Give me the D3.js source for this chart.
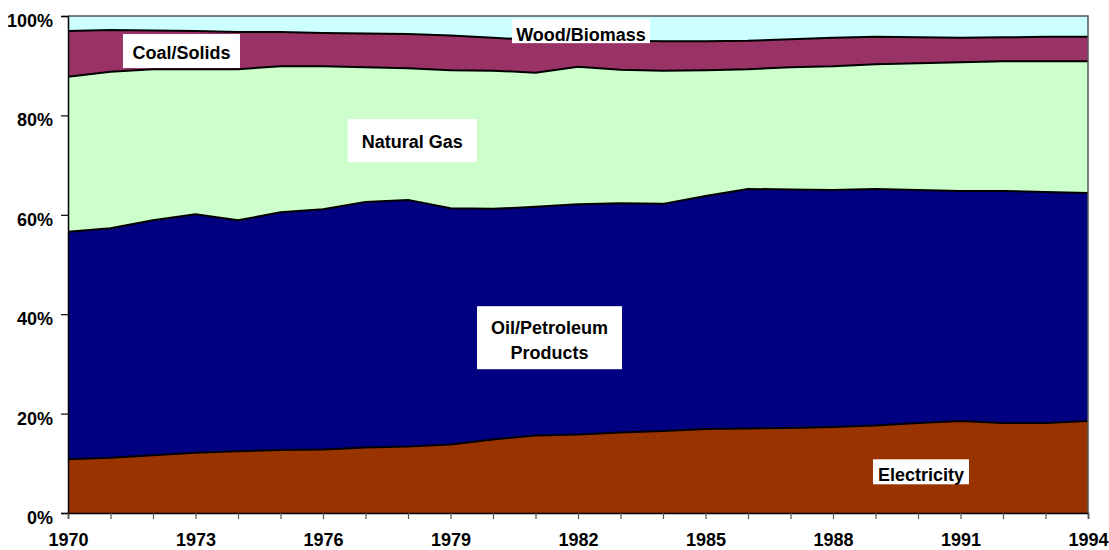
<!DOCTYPE html>
<html>
<head>
<meta charset="utf-8">
<script src="https://cdn.jsdelivr.net/npm/d3@7"></script>
<style>
  body { margin: 0; background: #fff; }
  svg text { font-family: "Liberation Sans", Arial, sans-serif; font-weight: bold; fill: #000; }
</style>
</head>
<body>
<svg width="1109" height="550"></svg>
<script>
'use strict';

// shares (%) by year
const years = d3.range(1970, 1995);
const electricity = [10.8, 11.1, 11.6, 12.1, 12.4, 12.7, 12.8, 13.2, 13.4, 13.8, 14.8, 15.6, 15.8, 16.2, 16.5, 16.9, 17.0, 17.1, 17.3, 17.6, 18.1, 18.5, 18.1, 18.1, 18.5];
const oil = [45.8, 46.2, 47.3, 48.0, 46.5, 47.8, 48.3, 49.4, 49.6, 47.5, 46.4, 46.0, 46.3, 46.1, 45.7, 46.9, 48.2, 48.0, 47.7, 47.6, 46.9, 46.3, 46.7, 46.5, 45.9];
const gas = [31.2, 31.5, 30.4, 29.2, 30.4, 29.4, 28.8, 27.1, 26.5, 27.8, 27.8, 27.0, 27.7, 26.9, 26.8, 25.3, 24.1, 24.6, 24.9, 25.1, 25.5, 25.9, 26.1, 26.3, 26.5];
const coal = [9.2, 8.4, 7.8, 7.7, 7.5, 6.9, 6.7, 6.8, 6.9, 7.0, 6.6, 6.6, 5.3, 5.8, 5.9, 5.8, 5.7, 5.6, 5.7, 5.5, 5.2, 4.9, 4.8, 4.9, 4.9];
const wood = [3.0, 2.8, 2.9, 3.0, 3.2, 3.2, 3.4, 3.5, 3.6, 3.9, 4.4, 4.8, 4.9, 5.0, 5.1, 5.1, 5.0, 4.7, 4.4, 4.2, 4.3, 4.4, 4.3, 4.2, 4.2];

const seriesKeys = ["electricity", "oil", "gas", "coal", "wood"];
const seriesColors = ["#993300", "#000080", "#CCFFCC", "#993366", "#CCFFFF"];
const yTicks = [0, 20, 40, 60, 80, 100];
const xLabelYears = [1970, 1973, 1976, 1979, 1982, 1985, 1988, 1991, 1994];

// series labels, placed at a year / value point
const labelText = [["Coal/Solids"], ["Wood/Biomass"], ["Natural Gas"], ["Oil/Petroleum", "Products"], ["Electricity"]];
const labelYear = [1972.67, 1982.07, 1978.1, 1981.33, 1990.07];
const labelValue = [92.95, 96.95, 74.93, 35.27, 8.29];

// white box size and text shift for each label (px)
const labelBox = [
  {w: 117, h: 34, dy: 2},
  {w: 138, h: 24, dy: 4},
  {w: 129, h: 43, dy: 1},
  {w: 145, h: 63, dy: 2.5},
  {w: 96, h: 25, dy: 2.5}
];

const table = years.map((yr, i) => ({
  year: yr, electricity: electricity[i], oil: oil[i], gas: gas[i], coal: coal[i], wood: wood[i]
}));

const svg = d3.select("svg");
const margin = {top: 16, left: 68, right: 21, bottom: 37};
const width = +svg.attr("width") - margin.left - margin.right;
const height = +svg.attr("height") - margin.top - margin.bottom;

const x = d3.scaleLinear().domain([1970, 1994]).range([margin.left, margin.left + width]);
const y = d3.scaleLinear().domain([0, 100]).range([margin.top + height, margin.top]);

const stacked = d3.stack().keys(seriesKeys)(table);

const area = d3.area()
  .x(d => x(d.data.year))
  .y0(d => y(d[0]))
  .y1(d => y(d[1]));

svg.append("g").selectAll("path")
  .data(stacked)
  .join("path")
  .attr("fill", (d, i) => seriesColors[i])
  .attr("d", area);

// boundary lines between layers
const line = d3.line()
  .x(d => x(d.data.year))
  .y(d => y(d[1]));

svg.append("g").selectAll("path")
  .data(stacked.slice(0, 4))
  .join("path")
  .attr("fill", "none")
  .attr("stroke", "#000")
  .attr("stroke-width", 2)
  .attr("stroke-linejoin", "round")
  .attr("d", line);

// frame on top and right
svg.append("path")
  .attr("fill", "none")
  .attr("stroke", "#555")
  .attr("stroke-width", 1.5)
  .attr("d", "M" + x(1970) + "," + y(100) + "H" + x(1994) + "V" + y(0));

// y axis
const yAxis = d3.axisLeft(y).tickValues(yTicks).tickFormat(d => d + "%").tickSize(7).tickPadding(8);
const gy = svg.append("g")
  .attr("transform", "translate(" + margin.left + ",0)")
  .call(yAxis);
gy.select(".domain").attr("stroke", "#000").attr("stroke-width", 1.5);
gy.selectAll(".tick line").attr("stroke", "#000").attr("stroke-width", 1.2);
gy.selectAll("text").style("font-size", "18px").attr("fill", "#000").attr("dy", "0.58em");

// x axis
const xAxis = d3.axisBottom(x).tickValues(years).tickSize(6).tickPadding(14)
  .tickFormat(d => xLabelYears.includes(d) ? d : "");
const gx = svg.append("g")
  .attr("transform", "translate(0," + (margin.top + height) + ")")
  .call(xAxis);
gx.select(".domain").attr("stroke", "#000").attr("stroke-width", 1.5);
gx.selectAll(".tick line").attr("stroke", "#555").attr("stroke-width", 1.2);
gx.selectAll("text").style("font-size", "18px").attr("fill", "#000");

// label boxes
const lab = svg.append("g").selectAll("g")
  .data(labelText)
  .join("g")
  .attr("transform", (d, i) => "translate(" + x(labelYear[i]) + "," + y(labelValue[i]) + ")");

lab.each(function(lines, i) {
  const g = d3.select(this);
  const box = labelBox[i];
  g.append("rect").attr("fill", "#fff")
    .attr("x", -box.w / 2).attr("y", -box.h / 2)
    .attr("width", box.w).attr("height", box.h);
  const t = g.append("text")
    .attr("text-anchor", "middle")
    .style("font-size", "18px");
  const lh = 24.6;
  lines.forEach((s, k) => {
    t.append("tspan")
      .attr("x", 0)
      .attr("y", (k - (lines.length - 1) / 2) * lh + box.dy)
      .attr("dy", "0.35em")
      .text(s);
  });
});
</script>
</body>
</html>
